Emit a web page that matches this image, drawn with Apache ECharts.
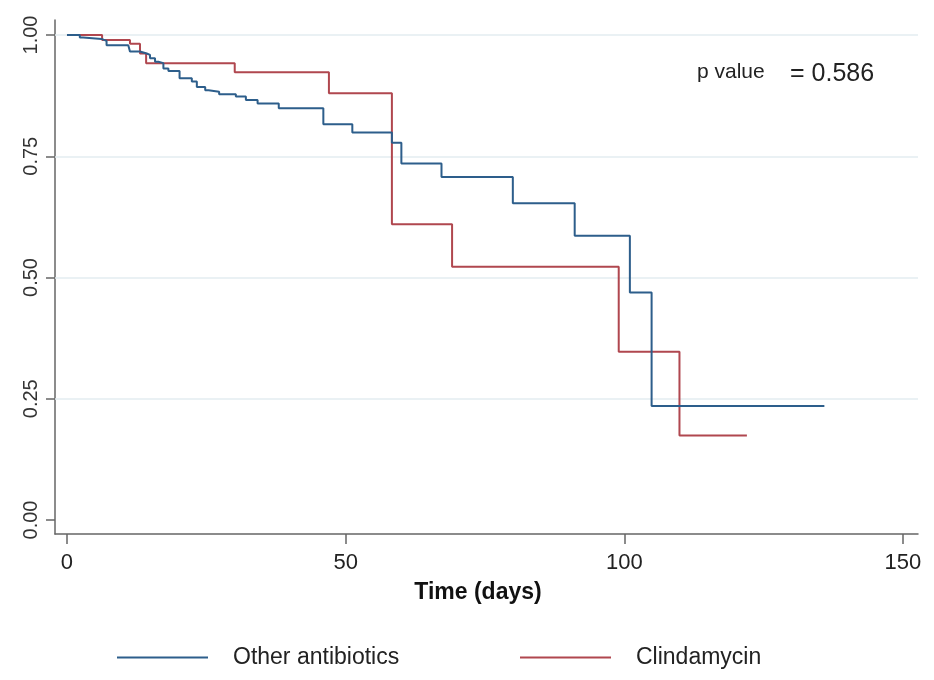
<!DOCTYPE html>
<html>
<head>
<meta charset="utf-8">
<script src="https://cdn.jsdelivr.net/npm/echarts@6/dist/echarts.min.js"></script>
<style>
  html, body { margin: 0; padding: 0; background: #fff; }
  #chart { width: 934px; height: 680px; }
</style>
</head>
<body>
<div id="chart"></div>
<script>
// Kaplan-Meier steps: [time (days), survival]
const otherTimes = [0, 2.3, 2.9, 6.2, 7.1, 11.0, 11.3, 13.1, 14.3, 14.9, 15.8, 16.4, 17.3, 18.2, 20.2, 22.4, 23.3, 24.8, 25.4, 27.3, 30.3, 32.1, 34.2, 38.0, 46.0, 51.2, 58.3, 60.0, 67.2, 80.0, 91.1, 101.0, 104.9, 135.9]
const otherSurv  = [1.0, 0.995, 0.992, 0.988, 0.979, 0.976, 0.966, 0.962, 0.959, 0.952, 0.945, 0.942, 0.931, 0.926, 0.911, 0.904, 0.893, 0.886, 0.883, 0.878, 0.873, 0.866, 0.859, 0.849, 0.816, 0.799, 0.778, 0.735, 0.707, 0.653, 0.586, 0.469, 0.235, 0.235]
const clindaTimes = [0, 6.3, 11.3, 13.1, 14.2, 30.1, 47.0, 58.3, 69.1, 99.0, 109.9, 122.0]
const clindaSurv  = [1.0, 0.990, 0.982, 0.962, 0.942, 0.923, 0.880, 0.610, 0.522, 0.347, 0.174, 0.174]
const xTicks = [0, 50, 100, 150]
const yTicks = [0, 0.25, 0.5, 0.75, 1]
const gridLevels = [0.25, 0.5, 0.75, 1]
const seriesNames = ['Other antibiotics', 'Clindamycin']

const zip = (xs, ys) => xs.map((x, i) => [x, ys[i]])

const chart = echarts.init(document.getElementById('chart'))

const legendText = {
  fontFamily: 'Liberation Sans, Arial, sans-serif',
  fontSize: 23,
  color: '#222',
  padding: [14, 0, 0, 20]
}

chart.setOption({
  animation: false,
  backgroundColor: '#fff',
  grid: { left: 55, right: 16, top: 20, bottom: 146, containLabel: false },
  xAxis: {
    type: 'value',
    min: -2.15,
    max: 152.7,
    name: 'Time (days)',
    nameLocation: 'middle',
    nameGap: 47,
    nameTextStyle: {
      fontFamily: 'Liberation Sans, Arial, sans-serif',
      fontWeight: 'bold',
      fontSize: 23,
      color: '#111',
      padding: [0, 17, 0, 0]
    },
    axisLine: { show: true, onZero: false, lineStyle: { color: '#666', width: 1.5 } },
    axisTick: { show: true, customValues: xTicks, length: 10, lineStyle: { color: '#666', width: 1.5 } },
    axisLabel: {
      customValues: xTicks,
      margin: 18,
      fontFamily: 'Liberation Sans, Arial, sans-serif',
      fontSize: 22,
      color: '#222'
    },
    splitLine: { show: false }
  },
  yAxis: {
    type: 'value',
    min: -0.0289,
    max: 1.031,
    axisLine: { show: true, onZero: false, lineStyle: { color: '#666', width: 1.5 } },
    axisTick: { show: true, customValues: yTicks, length: 9, lineStyle: { color: '#666', width: 1.5 } },
    axisLabel: {
      customValues: yTicks,
      rotate: 90,
      margin: 14,
      fontFamily: 'Liberation Sans, Arial, sans-serif',
      fontSize: 20,
      color: '#333',
      formatter: v => v.toFixed(2)
    },
    splitLine: { show: false }
  },
  legend: [
    {
      left: 112, top: 641,
      data: [seriesNames[0]],
      icon: 'rect', itemWidth: 91, itemHeight: 2,
      textStyle: legendText
    },
    {
      left: 515, top: 641,
      data: [seriesNames[1]],
      icon: 'rect', itemWidth: 91, itemHeight: 2,
      textStyle: legendText
    }
  ],
  graphic: [
    {
      type: 'text', left: 697, top: 62,
      style: { text: 'p value', fontFamily: 'Liberation Sans, Arial, sans-serif', fontSize: 21, fill: '#222' }
    },
    {
      type: 'text', left: 790, top: 62,
      style: { text: '= 0.586', fontFamily: 'Liberation Sans, Arial, sans-serif', fontSize: 25, fill: '#222' }
    }
  ],
  series: [
    {
      name: seriesNames[0],
      type: 'line',
      step: 'end',
      symbol: 'none',
      data: zip(otherTimes, otherSurv),
      lineStyle: { color: '#2d5e8b', width: 2 },
      itemStyle: { color: '#2d5e8b' },
      z: 3,
      markLine: {
        silent: true,
        symbol: 'none',
        label: { show: false },
        lineStyle: { color: '#e3ecf1', width: 1.5, type: 'solid' },
        data: gridLevels.map(v => ({ yAxis: v })),
        z: 1
      }
    },
    {
      name: seriesNames[1],
      type: 'line',
      step: 'end',
      symbol: 'none',
      data: zip(clindaTimes, clindaSurv),
      lineStyle: { color: '#b0474f', width: 2 },
      itemStyle: { color: '#b0474f' },
      z: 2
    }
  ]
})

window.onresize = () => chart.resize()
</script>
</body>
</html>
